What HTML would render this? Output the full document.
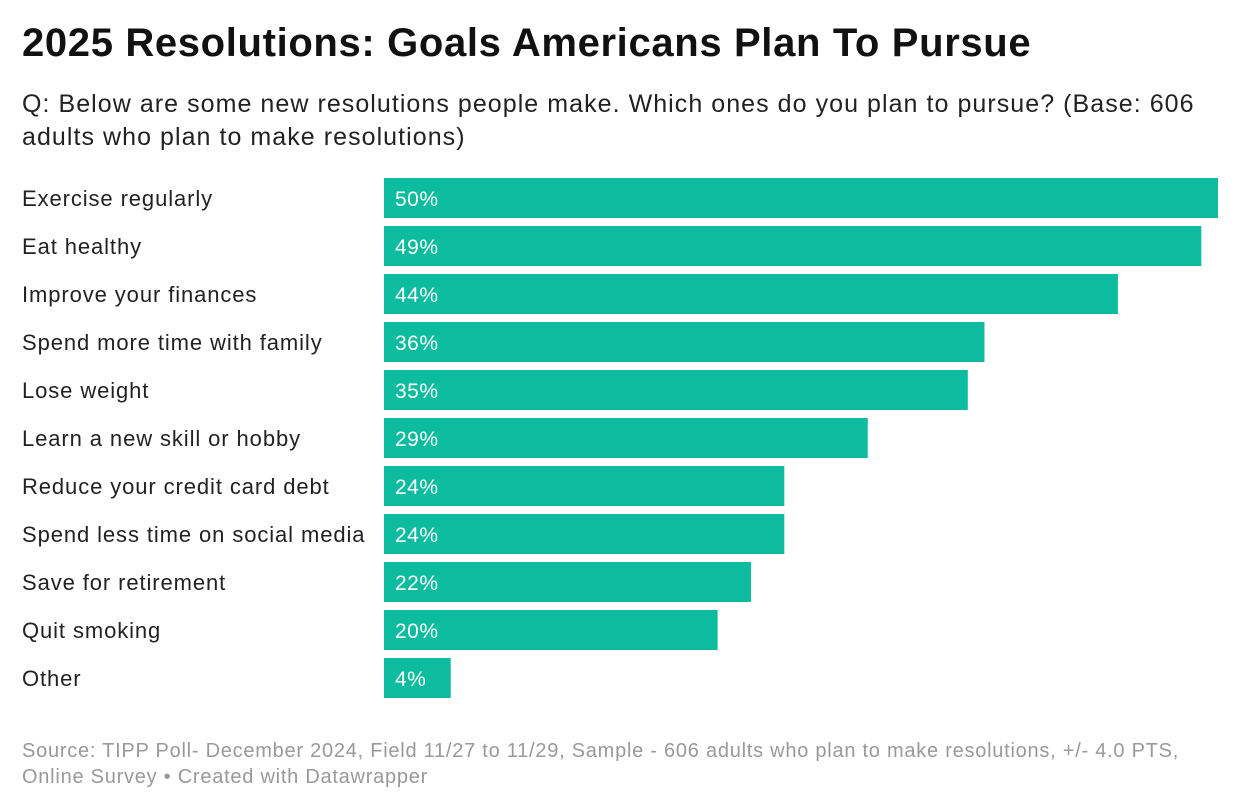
<!DOCTYPE html>
<html><head><meta charset="utf-8">
<style>
body{margin:0;width:1240px;height:810px;background:#fff;font-family:"Liberation Sans",sans-serif;position:relative;overflow:hidden}
h1{position:absolute;left:22px;top:21px;margin:0;font-size:40px;font-weight:bold;color:#111;letter-spacing:0.65px;white-space:nowrap}
.sub{position:absolute;left:22px;top:88px;width:1210px;font-size:25px;line-height:33px;color:#222;margin:0;letter-spacing:1.05px}
.foot{position:absolute;left:22px;top:738px;font-size:20px;line-height:26px;color:#999;width:1190px;letter-spacing:0.75px}
#chart{position:absolute;left:0;top:0}
</style></head><body>
<h1>2025 Resolutions: Goals Americans Plan To Pursue</h1>
<p class="sub">Q: Below are some new resolutions people make. Which ones do you plan to pursue? (Base: 606 adults who plan to make resolutions)</p>
<svg id="chart" width="1240" height="810"></svg>
<div class="foot">Source: TIPP Poll- December 2024, Field 11/27 to 11/29, Sample - 606 adults who plan to make resolutions, +/- 4.0 PTS, Online Survey • Created with Datawrapper</div>
<script>
const categories=["Exercise regularly","Eat healthy","Improve your finances","Spend more time with family","Lose weight","Learn a new skill or hobby","Reduce your credit card debt","Spend less time on social media","Save for retirement","Quit smoking","Other"];
const values=[50,49,44,36,35,29,24,24,22,20,4];
const svg=document.getElementById('chart');
const NS='http://www.w3.org/2000/svg';
const x0=384,xMax=50,wMax=834;
const xs=v=>v/xMax*wMax;
const ys=i=>178+i*48;
categories.forEach((c,i)=>{
  const t=document.createElementNS(NS,'text');
  t.setAttribute('x',22);t.setAttribute('y',ys(i)+28);
  t.setAttribute('font-size','22');t.setAttribute('fill','#222');
  t.setAttribute('letter-spacing','0.9');
  t.setAttribute('font-family','Liberation Sans, sans-serif');
  t.textContent=c;
  
  
  svg.appendChild(t);
  const r=document.createElementNS(NS,'rect');
  r.setAttribute('x',x0);r.setAttribute('y',ys(i));
  r.setAttribute('width',xs(values[i]));r.setAttribute('height',40);
  r.setAttribute('fill','#0dbc9e');
  
  
  svg.appendChild(r);
  const v=document.createElementNS(NS,'text');
  v.setAttribute('x',x0+11);v.setAttribute('y',ys(i)+28);
  v.setAttribute('font-size','21');v.setAttribute('fill','#fff');
  v.setAttribute('letter-spacing','0.5');
  v.setAttribute('font-family','Liberation Sans, sans-serif');
  v.textContent=values[i]+'%';
  
  
  svg.appendChild(v);
});
</script>
</body></html>
